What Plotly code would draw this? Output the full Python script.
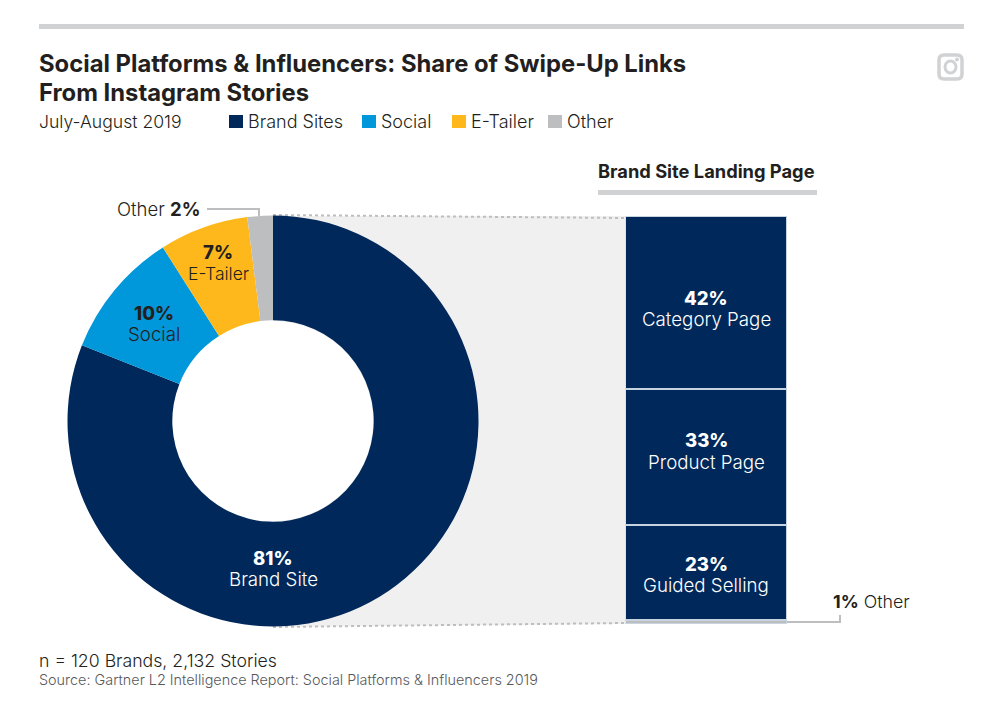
import plotly.graph_objects as go

W = 1000
H = 712

donut_labels = ['Brand Site', 'Social', 'E-Tailer', 'Other']
donut_values = [81, 10, 7, 2]
donut_colors = ['#00285a', '#0098db', '#ffb81c', '#bcbec0']

legend_labels = ['Brand Sites', 'Social', 'E-Tailer', 'Other']

page_labels = ['Category Page', 'Product Page', 'Guided Selling', 'Other']
page_values = [42, 33, 23, 1]
page_colors = ['#00285a', '#00285a', '#00285a', '#bcbec0']

title_lines = ['Social Platforms & Influencers: Share of Swipe-Up Links', 'From Instagram Stories']
date_text = 'July-August 2019'
panel_title = 'Brand Site Landing Page'
note_text = 'n = 120 Brands, 2,132 Stories'
source_text = 'Source: Gartner L2 Intelligence Report: Social Platforms & Influencers 2019'

font_name = 'Inter'
dark = '#231f20'
rule_grey = '#d1d2d4'


def px(x_pos):
    return x_pos / W


def py(y_pos):
    return 1 - y_pos / H


def add_text(fig, x_pos, y_pos, text, size=18, color=dark, anchor='center', weight=300):
    # annotations pad their box by about 2px, so left anchored text is pulled back
    shift = 2 if anchor == 'left' else 0
    fig.add_annotation(x=px(x_pos - shift), y=py(y_pos), xref='paper', yref='paper', text=text, showarrow=False,
                       xanchor=anchor, yanchor='middle', align=anchor,
                       font=dict(family=font_name, size=size, color=color, weight=weight))


def add_pair(fig, x_pos, y_pct, y_label, value, label, color=dark, label_size=18.7):
    add_text(fig, x_pos, y_pct, f'{value}%', size=18.5, color=color, weight=800)
    add_text(fig, x_pos, y_label, label, size=label_size, color=color)


def add_box(fig, x0, y0, x1, y1, color, kind='rect'):
    fig.add_shape(type=kind, xref='paper', yref='paper', x0=px(x0), y0=py(y0), x1=px(x1), y1=py(y1),
                  fillcolor=color, line_width=0, layer='below')


def add_path(fig, points, color, fill=None, dash='solid', width=2):
    path = 'M ' + ' L '.join(f'{px(p[0])} {py(p[1])}' for p in points)
    if fill:
        path += ' Z'
    fig.add_shape(type='path', xref='paper', yref='paper', path=path, fillcolor=fill,
                  line=dict(color=color, width=width, dash=dash), layer='below')


fig = go.Figure()

fig.add_trace(go.Pie(labels=donut_labels, values=donut_values, hole=0.49, sort=False, direction='clockwise',
                     rotation=0, textinfo='none', marker=dict(colors=donut_colors, line=dict(width=0)),
                     domain=dict(x=[px(67.5), px(478.5)], y=[py(626.5), py(215.5)]), showlegend=False))

for i in range(len(page_values)):
    fig.add_trace(go.Bar(x=[0], y=[page_values[i]], name=page_labels[i], width=1, showlegend=False,
                         marker=dict(color=page_colors[i], line=dict(color='#c8d3e0', width=1.5))))

fig.update_layout(
    width=W, height=H, margin=dict(l=0, r=0, t=0, b=0), barmode='stack',
    paper_bgcolor='white', plot_bgcolor='rgba(0,0,0,0)',
    font=dict(family=font_name, color=dark),
    xaxis=dict(domain=[px(625.5), px(787)], range=[-0.5, 0.5], visible=False),
    yaxis=dict(domain=[py(624), py(216)], range=[sum(page_values), 0], visible=False),
)

# top rule and panel rule
add_box(fig, 39, 24, 964, 29, rule_grey)
add_box(fig, 598, 190, 817, 195, rule_grey)

# grey wedge linking the donut to the stacked bar
add_path(fig, [(273, 216), (626, 216), (626, 624), (273, 627)], 'rgba(0,0,0,0)', fill='#f0f0f0', width=0)
add_box(fig, 173, 321, 373, 521, 'white', kind='circle')
add_path(fig, [(273, 215), (626, 218)], '#bcbec0', dash='dot')
add_path(fig, [(273, 627), (626, 623)], '#bcbec0', dash='dot')

# leader lines
add_path(fig, [(207, 209), (259, 209), (259, 216)], '#bcbec0')
add_path(fig, [(787, 622), (840, 622), (840, 615)], '#bcbec0')

# instagram mark
fig.add_shape(type='path', xref='paper', yref='paper', layer='below', line=dict(color=rule_grey, width=3.5),
              path=f'M {px(944)} {py(55)} L {px(957)} {py(55)} Q {px(962)} {py(55)} {px(962)} {py(60)} '
                   f'L {px(962)} {py(74)} Q {px(962)} {py(79)} {px(957)} {py(79)} L {px(944)} {py(79)} '
                   f'Q {px(939)} {py(79)} {px(939)} {py(74)} L {px(939)} {py(60)} Q {px(939)} {py(55)} {px(944)} {py(55)} Z')
fig.add_shape(type='circle', xref='paper', yref='paper', layer='below', line=dict(color=rule_grey, width=3),
              x0=px(945), y0=py(61), x1=px(956), y1=py(73))
add_box(fig, 955, 57.5, 959, 61.5, rule_grey, kind='circle')

add_text(fig, 39, 63.5, title_lines[0], size=23.8, anchor='left', weight=700)
add_text(fig, 39, 92.5, title_lines[1], size=23.8, anchor='left', weight=700)
add_text(fig, 39, 121, date_text, size=17.6, anchor='left')

# legend
legend_x = [229, 362, 452, 548]
for i in range(len(legend_labels)):
    add_box(fig, legend_x[i], 115, legend_x[i] + 14, 128, donut_colors[i])
    add_text(fig, legend_x[i] + 19, 121, legend_labels[i], anchor='left')

add_text(fig, 598, 171, panel_title, size=18.3, anchor='left', weight=700)

# donut labels
add_pair(fig, 273, 558, 579, donut_values[0], donut_labels[0], color='white')
add_pair(fig, 154, 313, 334, donut_values[1], donut_labels[1])
add_pair(fig, 218, 252, 273, donut_values[2], donut_labels[2], label_size=17.5)
add_text(fig, 158, 209, f'{donut_labels[3]} <b>{donut_values[3]}%</b>', size=18.5)

# bar labels
add_pair(fig, 706, 298, 319, page_values[0], page_labels[0], color='white')
add_pair(fig, 706, 440, 462, page_values[1], page_labels[1], color='white')
add_pair(fig, 706, 564, 585, page_values[2], page_labels[2], color='white')
add_text(fig, 833, 601, f'<b>{page_values[3]}%</b> {page_labels[3]}', size=17.8, anchor='left')

add_text(fig, 39, 660, note_text, size=17.7, anchor='left')
add_text(fig, 39, 679, source_text, size=14.4, color='#58595b', anchor='left')

fig.write_html("out.html", config=dict(displayModeBar=False), post_script="document.body.style.margin = '0';")
